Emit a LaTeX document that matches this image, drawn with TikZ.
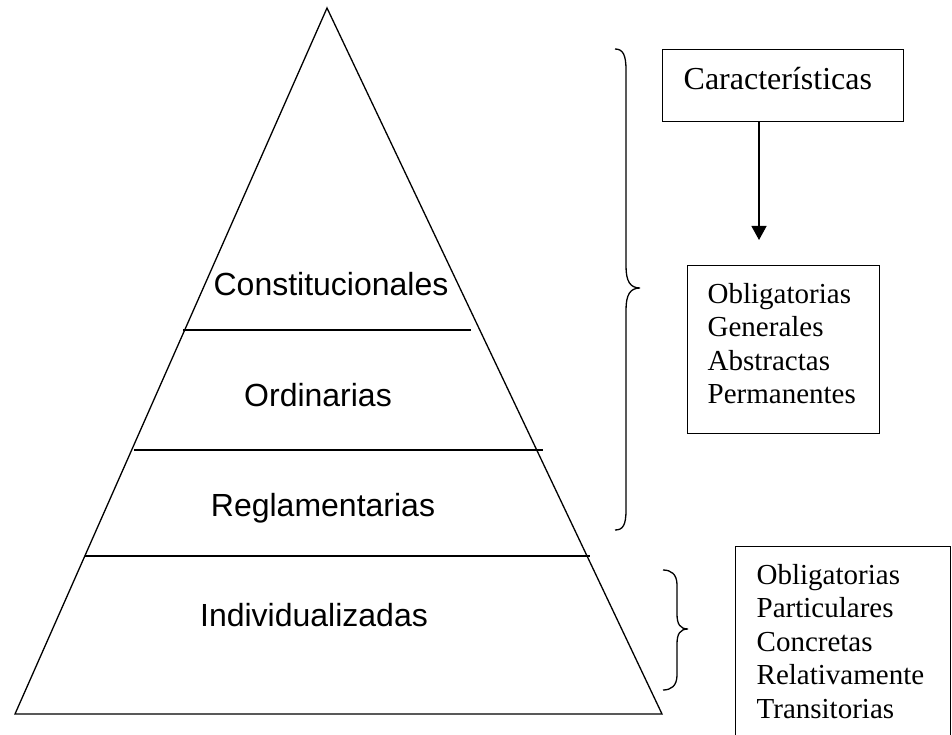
\documentclass[tikz,border=0pt]{standalone}
\usepackage{fontspec}
\setmainfont{Liberation Serif}
\newfontfamily\arialf{Liberation Sans}
\usetikzlibrary{arrows.meta}
\begin{document}
\begin{tikzpicture}[x=1pt,y=-1pt,line width=1.3pt,
  pyr/.style={font=\arialf\fontsize{32}{38}\selectfont,inner sep=0pt,anchor=base},
  lst/.style={font=\fontsize{29}{33.5}\selectfont,inner sep=0pt,anchor=base west},
  ttl/.style={font=\fontsize{32}{38}\selectfont,inner sep=0pt,anchor=base west},
  boxed/.style={draw,inner sep=0pt,anchor=north west}]
\clip (0,0) rectangle (952,735);
\fill[white] (0,0) rectangle (952,735);
% pyramid
\coordinate (apex) at (327,8);
\coordinate (bl) at (15,714);
\coordinate (br) at (662,714);
\draw (apex) -- (br) -- (bl) -- cycle;
\coordinate (l1a) at (183,330); \coordinate (l1b) at (471,330);
\coordinate (l2a) at (134,450); \coordinate (l2b) at (543,450);
\coordinate (l3a) at (85,556);  \coordinate (l3b) at (590,556);
\draw (l1a) -- (l1b);
\draw (l2a) -- (l2b);
\draw (l3a) -- (l3b);
\node[pyr] (cons) at (331,295.5) {Constitucionales};
\node[pyr] (ord) at (318,406) {Ordinarias};
\node[pyr] (reg) at (323,516) {Reglamentarias};
\node[pyr] (ind) at (314,626.5) {Individualizadas};
% braces
\draw (615,49) .. controls (623,49) and (626,55) .. (626,70) -- (626,266)
  .. controls (626,281) and (630,288) .. (640,288)
  .. controls (630,288) and (626,295) .. (626,310) -- (626,510)
  .. controls (626,525) and (623,530) .. (615,530);
\draw (663,570) .. controls (671,570) and (677,574) .. (677,585) -- (677,614)
  .. controls (677,624) and (680,629) .. (688,629)
  .. controls (680,629) and (677,634) .. (677,644) -- (677,675)
  .. controls (677,686) and (671,690) .. (663,690);
% boxes
\node[boxed,minimum width=241pt,minimum height=72pt] (carbox) at (662,49) {};
\node[ttl] (cartxt) at (683,90) {Características};
\coordinate (tip) at (759,240);
\draw[-{Triangle[width=15pt,length=14pt]}] (carbox.south -| tip) -- (tip);
\node[boxed,minimum width=192pt,minimum height=168pt] (gbox) at (687,265) {};
\node[lst] (g1) at (707,303) {Obligatorias};
\node[lst] (g2) at (707,336.5) {Generales};
\node[lst] (g3) at (707,370) {Abstractas};
\node[lst] (g4) at (707,403.5) {Permanentes};
\node[boxed,minimum width=215pt,minimum height=240pt] (pbox) at (735,546) {};
\node[lst] (p1) at (756,584) {Obligatorias};
\node[lst] (p2) at (756,617.5) {Particulares};
\node[lst] (p3) at (756,651) {Concretas};
\node[lst] (p4) at (756,684.5) {Relativamente};
\node[lst] (p5) at (756,718) {Transitorias};
\end{tikzpicture}
\end{document}
